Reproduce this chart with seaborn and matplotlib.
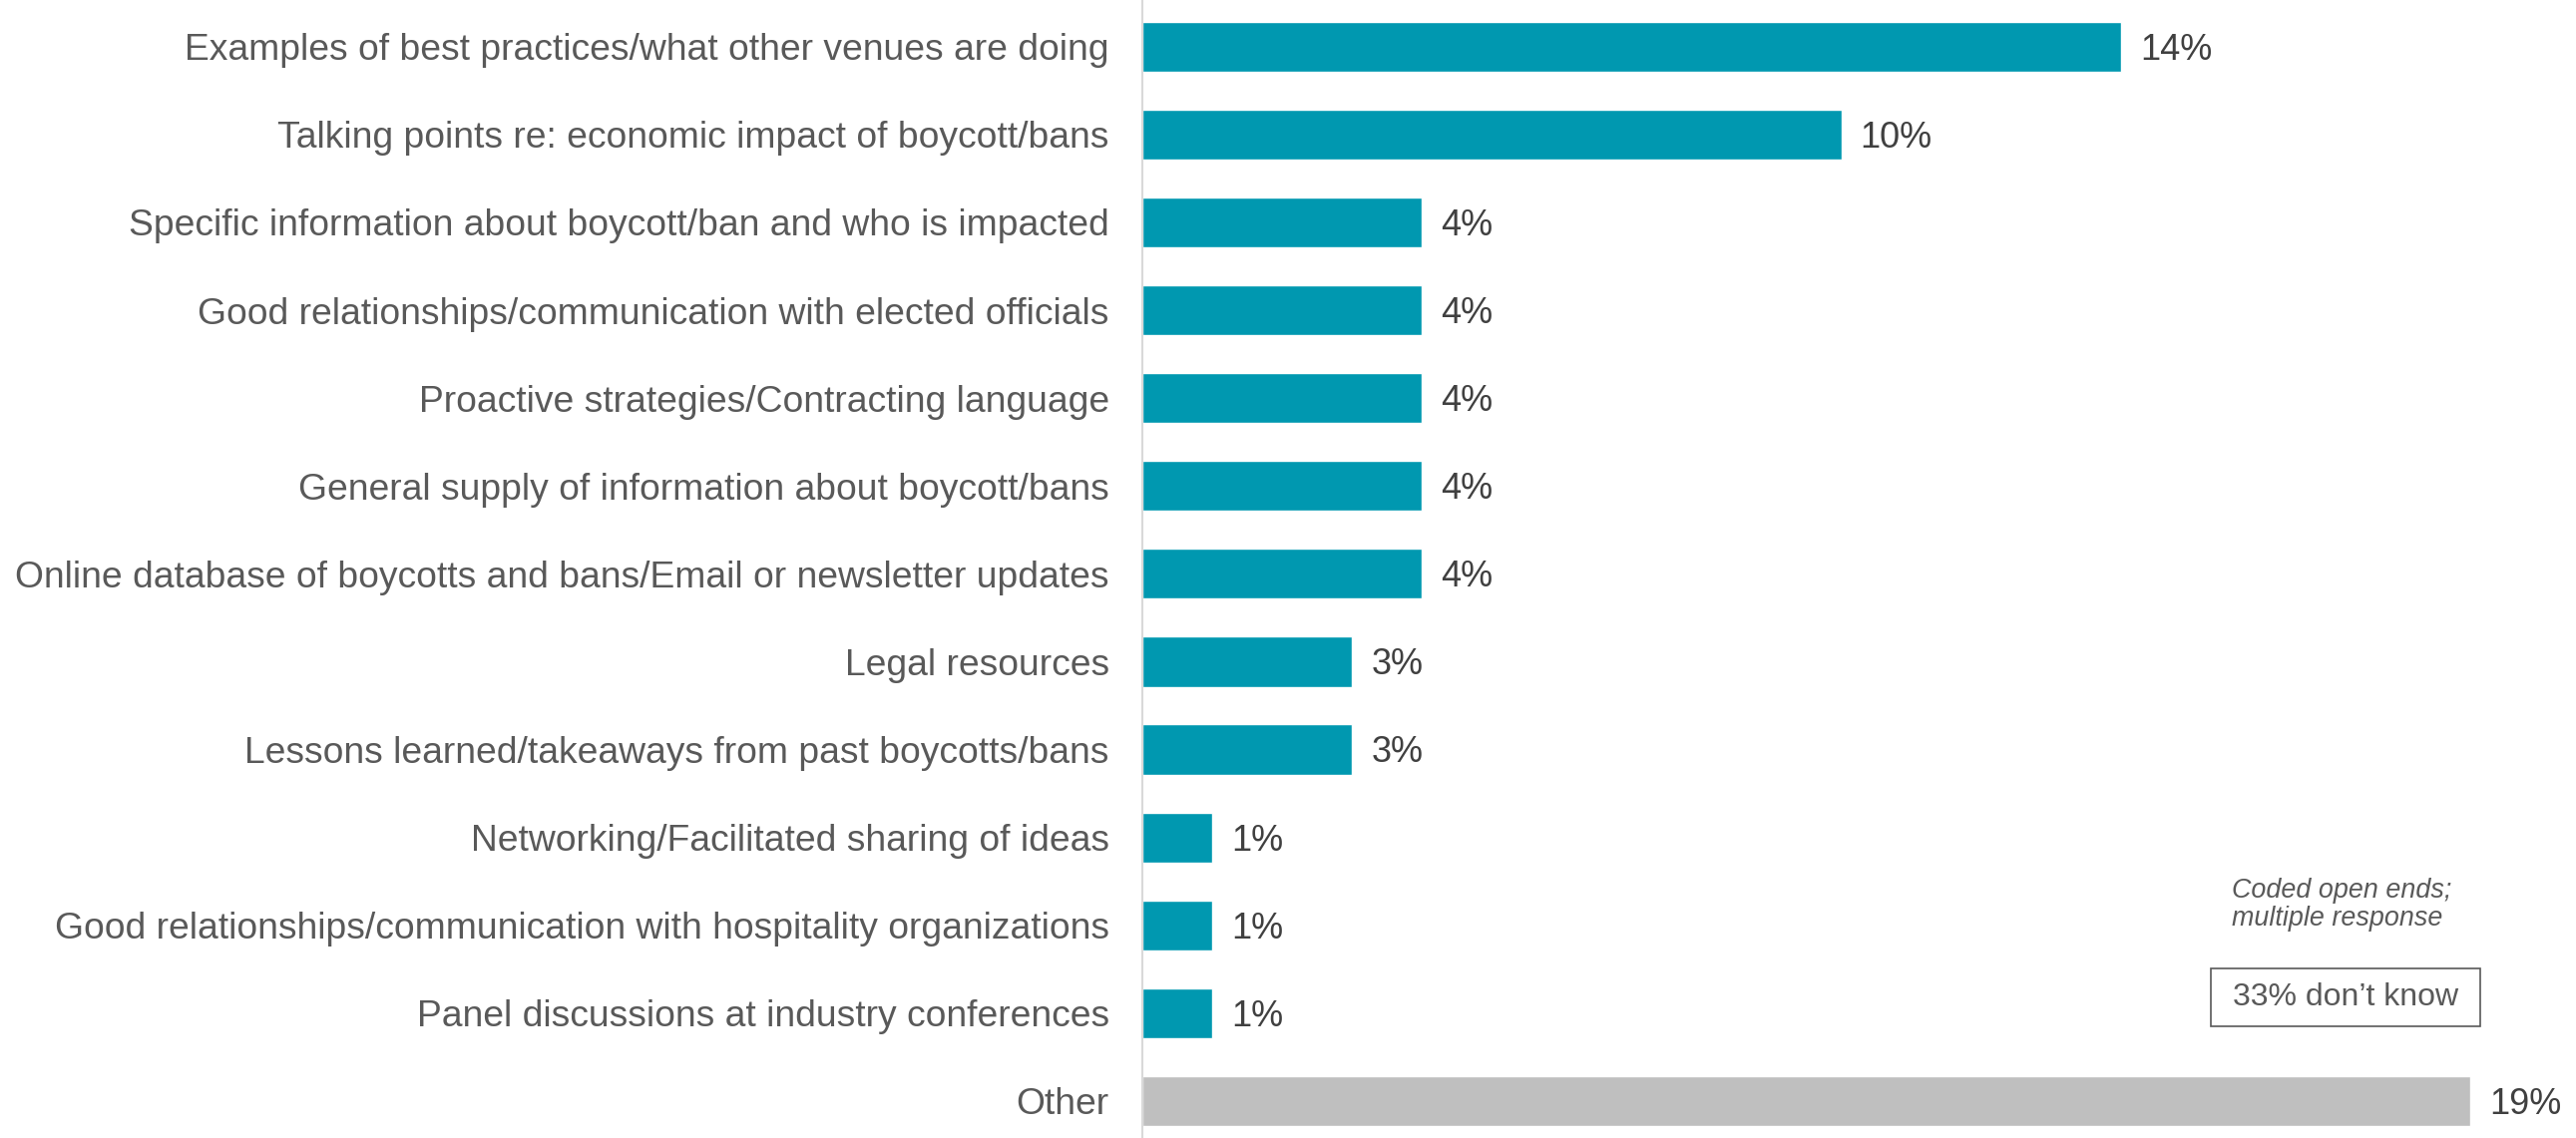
import matplotlib
matplotlib.use("Agg")
import matplotlib.pyplot as plt
from matplotlib.patches import Rectangle
import seaborn as sns
import pandas as pd

categories = [
    "Examples of best practices/what other venues are doing",
    "Talking points re: economic impact of boycott/bans",
    "Specific information about boycott/ban and who is impacted",
    "Good relationships/communication with elected officials",
    "Proactive strategies/Contracting language",
    "General supply of information about boycott/bans",
    "Online database of boycotts and bans/Email or newsletter updates",
    "Legal resources",
    "Lessons learned/takeaways from past boycotts/bans",
    "Networking/Facilitated sharing of ideas",
    "Good relationships/communication with hospitality organizations",
    "Panel discussions at industry conferences",
    "Other",
]
values = [14, 10, 4, 4, 4, 4, 4, 3, 3, 1, 1, 1, 19]
value_labels = ["14%", "10%", "4%", "4%", "4%", "4%", "4%", "3%", "3%", "1%", "1%", "1%", "19%"]

TEAL = "#0098B0"
GREY = "#BFBFBF"
bar_colors = [GREY if c == "Other" else TEAL for c in categories]

sns.set_theme(style="white")
plt.rcParams["font.family"] = ["Liberation Sans", "DejaVu Sans"]

df = pd.DataFrame({"item": categories, "pct": values})

W, H = 2582, 1141
fig = plt.figure(figsize=(W / 100, H / 100), dpi=100)
left = 1145 / W
ax = fig.add_axes([left, 0, 1 - left, 1])

sns.barplot(
    data=df, y="item", x="pct", hue="item", order=categories,
    palette=dict(zip(categories, bar_colors)), legend=False,
    orient="h", width=0.57, saturation=1, ax=ax,
)

ax.set_xlim(0, (W - 1145) / 70.06)
ax.set_ylim(12.42, -0.53)
ax.set_xlabel("")
ax.set_ylabel("")
ax.set_xticks([])
ax.tick_params(axis="y", length=0, pad=24, labelsize=26.8, labelcolor="#595959")
for side in ["top", "right", "bottom"]:
    ax.spines[side].set_visible(False)
ax.spines["left"].set_color("#D9D9D9")
ax.spines["left"].set_linewidth(1.5)

for cont in ax.containers:
    for bar in cont:
        idx = int(round(bar.get_y() + bar.get_height() / 2))
        ax.annotate(
            value_labels[idx],
            xy=(bar.get_width(), bar.get_y() + bar.get_height() / 2),
            xytext=(13.7, -9.3), textcoords="offset points",
            ha="left", va="baseline", fontsize=26, color="#404040",
        )

# Note about the coding of responses
fig.text(2237 / W, 1 - 900 / H, "Coded open ends;", fontsize=19.4,
         style="italic", color="#595959", ha="left", va="baseline")
fig.text(2237 / W, 1 - 928 / H, "multiple response", fontsize=19.4,
         style="italic", color="#595959", ha="left", va="baseline")

# Boxed "don't know" share
bx0, bx1, by0, by1 = 2216, 2486, 971, 1029
fig.patches.append(Rectangle(
    (bx0 / W, 1 - by1 / H), (bx1 - bx0) / W, (by1 - by0) / H,
    transform=fig.transFigure, fill=False, edgecolor="#595959", linewidth=1.2,
))
fig.text((bx0 + bx1) / 2 / W, 1 - (by0 + by1) / 2 / H, "33% don\u2019t know",
         fontsize=23, color="#595959", ha="center", va="center")

fig.savefig("out.png", dpi=100)
